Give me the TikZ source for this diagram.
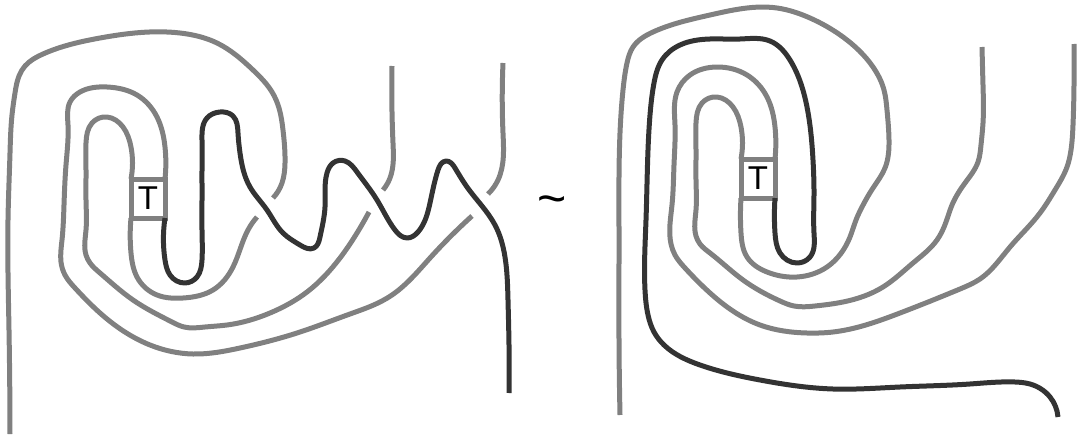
\documentclass[tikz,border=0pt]{standalone}
\usepackage{fontspec}
\setsansfont{Liberation Sans}
\usepackage{tikz}
\usetikzlibrary{positioning, hobby}
\definecolor{StrandGray}{HTML}{808080}
\definecolor{StrandDark}{HTML}{333333}

\begin{document}
\begin{tikzpicture}[x=1pt, y=-1pt, font=\sffamily,
    strand/.style={color=StrandGray, line width=5pt, line join=round, use Hobby shortcut},
    darkstrand/.style={strand, color=StrandDark},
    tanglebox/.style={draw=StrandGray, fill=white, line width=5pt, outer sep=0pt, minimum width=34pt, minimum height=39pt, inner sep=0pt, font=\sffamily\fontsize{33}{33}\selectfont, text=black}]
  \useasboundingbox (0,0) rectangle (1079,436);

  % Left tangle
  \node[tanglebox] (tleft) at (148,198.5) {T};

  % Gray strands, left
  \draw[strand] (10,434) .. (9,330) .. (8,220) .. (10,153) .. (12,115) .. (15,93) .. (19,76) .. (25,66) .. (43,54) .. (100,38) .. (180,33) .. (217,43) .. (253,70) .. (272,92) .. (279,108) .. (283,130) .. (285,163) .. (282,183) .. (273,198);
  \draw[strand] (tleft.south west) .. (131,253) .. (137,277) .. (157,295) .. (183,298) .. (213,290) .. (233,267) .. (248,230) .. (257,217);
  \draw[strand] (tleft.north west) .. (131,147) .. (123,127) .. (107,117) .. (92,123) .. (86,143) .. (86,170) .. (86,200) .. (86,230) .. (86,255) .. (90,263) .. (100,273) .. (133,300) .. (172,322) .. (184,327) .. (205,327) .. (227,325) .. (270,313) .. (307,292) .. (340,258) .. (357,233) .. (369,212);
  \draw[strand] (383,190) .. (390,178) .. (393,143) .. (392,66);
  \draw[strand] (tleft.north east) .. (165,147) .. (157,117) .. (137,95) .. (107,87) .. (80,92) .. (70,102) .. (68,125) .. (66,165) .. (64,205) .. (62,240) .. (61,262) .. (65,275) .. (75,288) .. (100,313) .. (150,345) .. (193,354) .. (240,348) .. (297,333) .. (350,314) .. (382,301) .. (392,295) .. (430,258) .. (472,216);
  \draw[strand] (488,194) .. (498,180) .. (503,133) .. (503,63);

  % Dark strand, left
  \draw[darkstrand] (tleft.south east) .. (165,260) .. (170,275) .. (185,283) .. (197,277) .. (202,260) .. (202,230) .. (202,200) .. (202,170) .. (202,140) .. (207,118) .. (220,112) .. (233,116) .. (238,133) .. (240,153) .. (250,187) .. (267,210) .. (283,233) .. (300,245) .. (314,248) .. (320,237) .. (325,207) .. (327,173) .. (333,163) .. (345,161) .. (357,172) .. (377,200) .. (395,230) .. (407,238) .. (418,232) .. (430,203) .. (438,170) .. (446,161) .. (455,168) .. (467,187) .. (495,225) .. (505,257) .. (508,300) .. (509,345) .. (509,393);

  % Equivalence sign
  \node[font=\sffamily\fontsize{50}{50}\selectfont] (equiv) at (552,206) {\textasciitilde};

  % Right tangle
  \node[tanglebox] (tright) at (758,178.5) {T};

  % Gray strands, right
  \draw[strand] (620,415) .. (619,340) .. (619,230) .. (620,133) .. (623,90) .. (627,63) .. (633,47) .. (653,32) .. (710,15) .. (777,8) .. (810,18) .. (843,37) .. (873,67) .. (884,90) .. (887,110) .. (889,140) .. (885,168) .. (873,188) .. (862,207) .. (856,220) .. (850,237) .. (827,267) .. (797,277) .. (767,272) .. (747,257) .. (741,233) .. (tright.south west);
  \draw[strand] (tright.north west) .. (741,127) .. (733,107) .. (717,97) .. (702,103) .. (696,123) .. (696,150) .. (696,180) .. (696,210) .. (696,236) .. (700,244) .. (710,253) .. (743,280) .. (780,301) .. (794,306) .. (815,306) .. (843,302) .. (883,287) .. (913,263) .. (937,240) .. (946,222) .. (952,205) .. (965,183) .. (978,162) .. (981,145) .. (983,123) .. (983,85) .. (982,47);
  \draw[strand] (tright.north east) .. (775,127) .. (767,97) .. (747,75) .. (717,67) .. (690,75) .. (677,92) .. (675,125) .. (674,165) .. (672,205) .. (671,244) .. (675,255) .. (685,268) .. (710,293) .. (760,325) .. (807,333) .. (833,332) .. (900,313) .. (960,289) .. (980,279) .. (1010,247) .. (1040,213) .. (1055,190) .. (1067,167) .. (1071,150) .. (1073,125) .. (1074,85) .. (1074,44);

  % Dark strand, right
  \draw[darkstrand] (tright.south east) .. (775,233) .. (780,253) .. (797,263) .. (810,257) .. (814,233) .. (814,195) .. (813,160) .. (807,107) .. (790,60) .. (770,41) .. (740,39) .. (710,39) .. (680,45) .. (662,60) .. (654,83) .. (650,115) .. (648,150) .. (646,220) .. (645,290) .. (648,315) .. (654,332) .. (664,345) .. (700,365) .. (760,380) .. (833,389) .. (900,387) .. (970,384) .. (1015,382) .. (1030,384) .. (1050,397) .. (1058,417);
\end{tikzpicture}
\end{document}
